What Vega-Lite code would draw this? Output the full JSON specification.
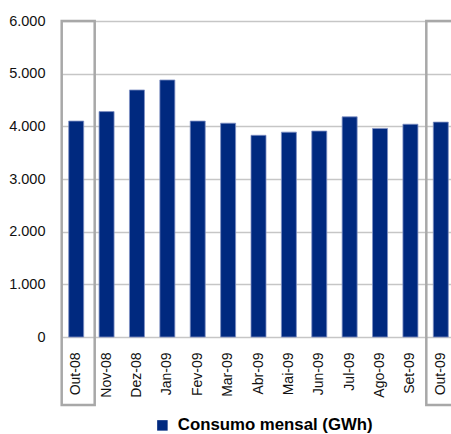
{
  "$schema": "https://vega.github.io/schema/vega-lite/v6.json",
  "autosize": "none",
  "width": 395,
  "height": 316,
  "padding": {"left": 61, "top": 21, "right": 0, "bottom": 97},
  "background": "white",
  "config": {"view": {"stroke": null}, "font": "Liberation Sans"},
  "data": {"values": [
    {"mes": "Out-08", "consumo": 4100, "serie": "Consumo mensal (GWh)"},
    {"mes": "Nov-08", "consumo": 4280, "serie": "Consumo mensal (GWh)"},
    {"mes": "Dez-08", "consumo": 4690, "serie": "Consumo mensal (GWh)"},
    {"mes": "Jan-09", "consumo": 4880, "serie": "Consumo mensal (GWh)"},
    {"mes": "Fev-09", "consumo": 4100, "serie": "Consumo mensal (GWh)"},
    {"mes": "Mar-09", "consumo": 4060, "serie": "Consumo mensal (GWh)"},
    {"mes": "Abr-09", "consumo": 3830, "serie": "Consumo mensal (GWh)"},
    {"mes": "Mai-09", "consumo": 3890, "serie": "Consumo mensal (GWh)"},
    {"mes": "Jun-09", "consumo": 3910, "serie": "Consumo mensal (GWh)"},
    {"mes": "Jul-09", "consumo": 4180, "serie": "Consumo mensal (GWh)"},
    {"mes": "Ago-09", "consumo": 3960, "serie": "Consumo mensal (GWh)"},
    {"mes": "Set-09", "consumo": 4040, "serie": "Consumo mensal (GWh)"},
    {"mes": "Out-09", "consumo": 4080, "serie": "Consumo mensal (GWh)"}
  ]},
  "layer": [
    {
      "mark": {"type": "bar", "width": 15, "stroke": "#8091c4", "strokeWidth": 0.8},
      "encoding": {
        "x": {"field": "mes", "type": "nominal", "sort": null,
              "scale": {"paddingInner": 0, "paddingOuter": 0},
              "axis": {"title": null, "domain": false, "ticks": false, "labelAngle": 270,
                       "labelFontSize": 14, "labelColor": "#111111", "labelPadding": 15}},
        "y": {"field": "consumo", "type": "quantitative",
              "scale": {"domain": [0, 6000], "nice": false},
              "axis": {"title": null, "domain": false, "ticks": false,
                       "values": [0, 1000, 2000, 3000, 4000, 5000, 6000],
                       "labelExpr": "replace(format(datum.value, ','), ',', '.')",
                       "labelFontSize": 14.5, "labelColor": "#111111", "labelPadding": 16,
                       "gridColor": "#c6c6c6", "gridWidth": 1.3}},
        "color": {"field": "serie", "type": "nominal",
                  "scale": {"range": ["#00297f"]},
                  "legend": {"title": null, "orient": "none", "legendX": 93, "legendY": 396,
                             "symbolType": "square", "symbolSize": 110, "symbolStrokeWidth": 0,
                             "labelFont": "Liberation Sans", "labelFontWeight": "bold",
                             "labelFontSize": 16.8, "labelColor": "#000000", "labelOffset": 7,
                             "labelLimit": 400}}
      }
    },
    {
      "transform": [{"filter": "datum.mes == 'Out-08' || datum.mes == 'Out-09'"}],
      "mark": {"type": "bar", "width": 33, "xOffset": 2, "fillOpacity": 0, "fill": "white",
               "stroke": "#a8a8a8", "strokeWidth": 2.5},
      "encoding": {
        "x": {"field": "mes", "type": "nominal", "sort": null},
        "y": {"datum": 6000, "scale": {"domain": [0, 6000], "nice": false}},
        "y2": {"datum": -1290}
      }
    }
  ]
}
